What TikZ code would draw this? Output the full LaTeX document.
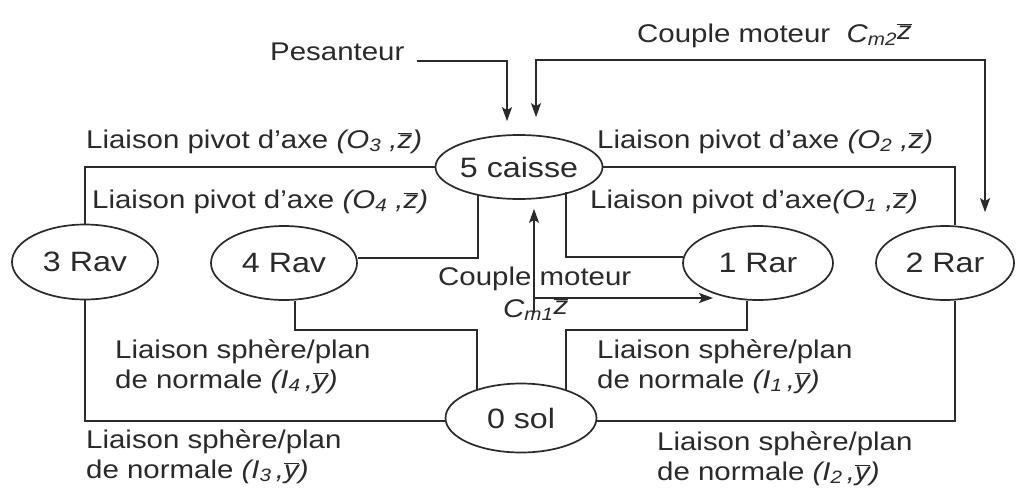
\documentclass[tikz,border=0pt]{standalone}
\usepackage{fontspec}
\setmainfont{Liberation Sans}[FakeStretch=1.15]
\usetikzlibrary{shapes.geometric,arrows.meta,calc}
\definecolor{ink}{HTML}{2A2A2A}
\newcommand{\zv}{$\overline{\mbox{\itshape z}}$}
\newcommand{\yv}{$\overline{\mbox{\itshape y}}$}
\begin{document}
\begin{tikzpicture}[x=1pt,y=-1pt,
  part/.style={ellipse,draw=ink,line width=1.7pt,inner sep=0pt,text=ink,
     font=\fontsize{28}{32}\selectfont},
  lbl/.style={text=ink,inner sep=0pt,align=left,font=\fontsize{25.6}{30}\selectfont},
  link/.style={draw=ink,line width=1.7pt},
  arr/.style={link,-{Stealth[length=14pt,width=10pt,inset=3pt]}},
  arrb/.style={link,{Stealth[length=14pt,width=10pt,inset=3pt]}-{Stealth[length=14pt,width=10pt,inset=3pt]}}]
\useasboundingbox (0,0) rectangle (1016,490);
\fill[white] (0,0) rectangle (1016,490);
% parts
\node[part,minimum width=146pt,minimum height=64pt] (c5) at (519,167) {5 caisse};
\node[part,minimum width=146pt,minimum height=75pt] (r3) at (85,262) {3 Rav};
\node[part,minimum width=146pt,minimum height=74pt] (r4) at (284,263) {4 Rav};
\node[part,minimum width=150pt,minimum height=74pt] (r1) at (758,263) {1 Rar};
\node[part,minimum width=138pt,minimum height=74pt] (r2) at (945,263) {2 Rar};
\node[part,minimum width=151pt,minimum height=69pt] (s0) at (521,418) {0 sol};
% links caisse - wheels
\draw[link] (c5.west) -| (r3.north);
\draw[link] (c5.east) -| ([xshift=10pt]r2.north);
\draw[link] ($(r4.east)+(0,-5)$) -| ($(c5.center)+(-41,27)$);
\draw[link] ($(r1.west)+(1,-6)$) -| ($(c5.center)+(47,25)$);
% links sol - wheels
\draw[link] (r3.south) |- ($(s0.west)+(0,3)$);
\draw[link] ([xshift=10pt]r2.south) |- ($(s0.east)+(0,3)$);
\draw[link] ([xshift=11pt]r4.south) -- ++(0,29) -| ($(s0.center)+(-44,-28)$);
\draw[link] ([xshift=-11pt]r1.south) -- ++(0,29) -| ($(s0.center)+(45,-28)$);
% external actions
\node[lbl,anchor=base west] (pes) at (270,60) {Pesanteur};
\draw[arr] ($(pes.base east)+(12,1)$) -| ([xshift=-12pt,yshift=13pt]c5.north);
\node[lbl,anchor=base west] (cm2) at (637,42) {Couple moteur \ \textit{C\textsubscript{m2}}\raisebox{3pt}{\zv}};
\coordinate (cm2c) at (760,60);
\draw[arrb] ([xshift=17pt,yshift=17pt]c5.north) |- (cm2c) -| ([xshift=40pt,yshift=13pt]r2.north);
\draw[arrb] ([xshift=15pt,yshift=-9pt]c5.south) |- ($(r1.center)+(-45,35)$);
\node[lbl,anchor=base west] (cm1a) at (438,285) {Couple moteur};
\draw[link] ([xshift=15pt,yshift=-20pt]c5.south) -- ++(0,92);
\node[lbl,anchor=base west] (cm1b) at (503,317) {\textit{C\textsubscript{m1}}\raisebox{3pt}{\zv}};
% joint labels
\node[lbl,anchor=base west] (l3) at (86,148) {Liaison pivot d'axe \textit{(O\textsubscript{3}\ ,}\zv\textit{)}};
\node[lbl,anchor=base west] (l4) at (92,208) {Liaison pivot d'axe \textit{(O\textsubscript{4}\ ,}\zv\textit{)}};
\node[lbl,anchor=base west] (l2) at (597,148) {Liaison pivot d'axe \textit{(O\textsubscript{2}\ ,}\zv\textit{)}};
\node[lbl,anchor=base west] (l1) at (590,208) {Liaison pivot d'axe\textit{(O\textsubscript{1}\ ,}\zv\textit{)}};
\node[lbl,anchor=base west] (s4) at (115,388) {Liaison sphère/plan\\de normale \textit{(I\textsubscript{4}\,,}\yv\textit{)}};
\node[lbl,anchor=base west] (s3) at (86,478) {Liaison sphère/plan\\de normale \textit{(I\textsubscript{3}\,,}\yv\textit{)}};
\node[lbl,anchor=base west] (s1) at (597,388) {Liaison sphère/plan\\de normale \textit{(I\textsubscript{1}\,,}\yv\textit{)}};
\node[lbl,anchor=base west] (s2) at (657,480) {Liaison sphère/plan\\de normale \textit{(I\textsubscript{2}\,,}\yv\textit{)}};
\end{tikzpicture}
\end{document}
